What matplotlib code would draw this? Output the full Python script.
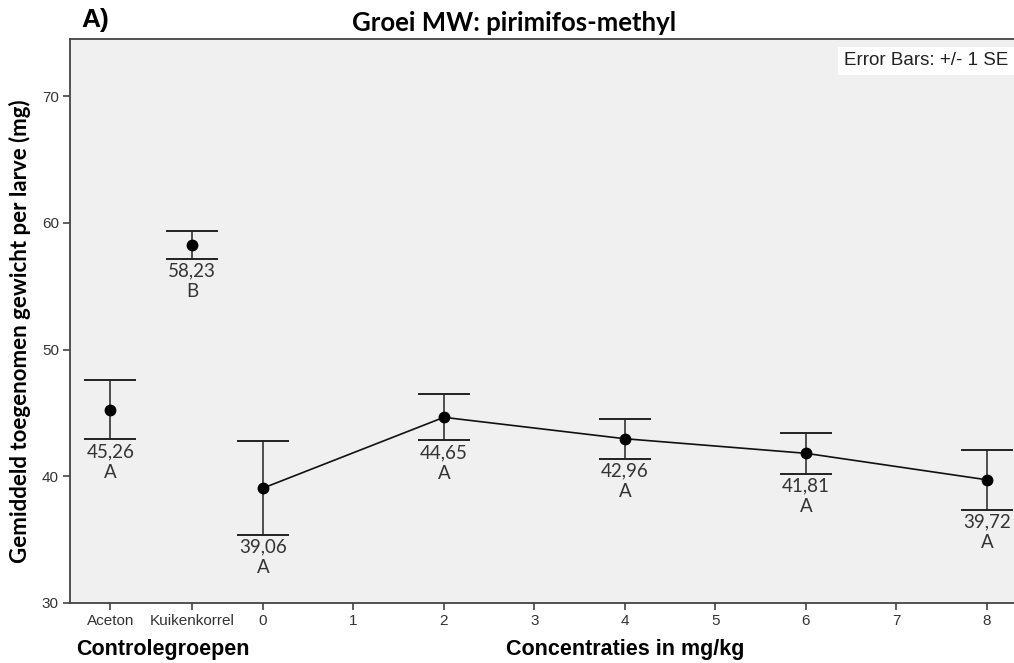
import matplotlib.pyplot as plt

# Control groups plotted to the left of the concentration axis
control_names = ["Aceton", "Kuikenkorrel"]
control_pos = [-1.685, -0.78]
control_mean = [45.26, 58.23]
control_se = [2.35, 1.10]
control_group = ["A", "B"]

# Pirimifos-methyl concentrations (mg/kg)
conc = [0, 2, 4, 6, 8]
conc_mean = [39.06, 44.65, 42.96, 41.81, 39.72]
conc_se = [3.70, 1.82, 1.58, 1.62, 2.35]
conc_group = ["A", "A", "A", "A", "A"]

conc_ticks = [0, 1, 2, 3, 4, 5, 6, 7, 8]
y_ticks = [30, 40, 50, 60, 70]

fig = plt.figure(figsize=(10.14, 6.63), dpi=100)
ax = fig.add_axes([0.069, 0.0905, 0.94, 0.8507])
ax.set_facecolor("#f0f0f0")

err_style = dict(fmt="o", color="black", markersize=7.5, ecolor="#222222",
                 elinewidth=1.1, capsize=18.5, capthick=1.4, zorder=3)

for xv, yv, ev in [(control_pos, control_mean, control_se),
                   (conc, conc_mean, conc_se)]:
    _, caps, _ = ax.errorbar(xv, yv, yerr=ev, **err_style)
    for cap in caps:
        cap.set_color("#5a5a5a")
ax.plot(conc, conc_mean, color="#111111", linewidth=1.2, zorder=2)

# Mean value and significance letter under each lower cap
xs = control_pos + conc
means = control_mean + conc_mean
ses = control_se + conc_se
groups = control_group + conc_group
for x, m, s, g in zip(xs, means, ses, groups):
    label = f"{m:.2f}".replace(".", ",")
    ax.annotate(label, xy=(x, m - s), xytext=(0, -8.8),
                textcoords="offset points", ha="center", va="center",
                fontsize=13.5, family="Lato", color="#333333")
    ax.annotate(g, xy=(x, m - s), xytext=(0, -23.5),
                textcoords="offset points", ha="center", va="center",
                fontsize=13.5, family="Lato", color="#333333")

ax.set_xlim(-2.131, 8.40)
ax.set_ylim(30, 74.5)
ax.set_xticks(control_pos + conc_ticks)
ax.set_xticklabels(control_names + [str(c) for c in conc_ticks],
                   family="Liberation Sans", fontsize=11, color="#333333")
ax.set_yticks(y_ticks)
ax.set_yticklabels([str(v) for v in y_ticks], family="Liberation Sans",
                   fontsize=11, color="#333333")
ax.tick_params(axis="both", direction="out", length=5, width=1.2,
               color="#444444", pad=3)

for side in ["left", "bottom", "top"]:
    ax.spines[side].set_color("#444444")
    ax.spines[side].set_linewidth(1.3)
ax.spines["right"].set_visible(False)

ax.set_ylabel("Gemiddeld toegenomen gewicht per larve (mg)", family="Lato",
              fontweight="bold", fontsize=16)
ax.yaxis.set_label_coords(-0.041, 0.482)

fig.text(0.161, 0.020, "Controlegroepen", family="Liberation Sans",
         fontweight="bold", fontsize=15.5, ha="center", va="center")
fig.text(0.617, 0.020, "Concentraties in mg/kg", family="Liberation Sans",
         fontweight="bold", fontsize=15.5, ha="center", va="center")

fig.text(0.507, 0.966, "Groei MW: pirimifos-methyl", family="Lato",
         fontweight="bold", fontsize=18.5, ha="center", va="center")
fig.text(0.080, 0.970, "A)", family="Liberation Sans", fontweight="bold",
         fontsize=19, ha="left", va="center")

fig.text(0.994, 0.908, "Error Bars: +/- 1 SE", ha="right", va="center",
         family="Liberation Sans", fontsize=13.5, color="#222222",
         bbox=dict(facecolor="white", edgecolor="none", pad=4))

fig.savefig("out.png", dpi=100)
